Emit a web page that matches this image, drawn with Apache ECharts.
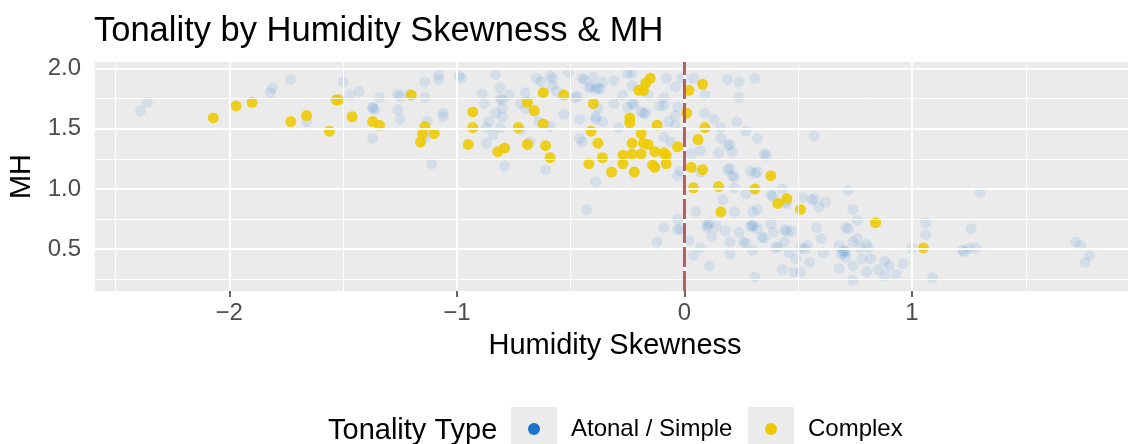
<!DOCTYPE html>
<html>
<head>
<meta charset="utf-8">
<script src="https://cdn.jsdelivr.net/npm/echarts@6.0.0/dist/echarts.min.js"></script>
<style>
  html, body { margin: 0; padding: 0; background: #fff; }
  #scatter { width: 1128px; height: 444px; }
</style>
</head>
<body>
<div id="scatter"></div>
<script>
// points: [humidity skewness, MH]
var atonalPoints = [
  [-2.36, 1.72], [-2.39, 1.65], [-1.82, 1.80], [-1.81, 1.84], [-1.73, 1.91], [-1.66, 1.56],
  [-1.50, 1.89], [-1.47, 1.78], [-1.43, 1.81], [-1.37, 1.67], [-1.36, 1.66], [-1.37, 1.68],
  [-1.34, 1.76], [-1.37, 1.42], [-1.26, 1.79], [-1.25, 1.77], [-1.26, 1.66], [-1.25, 1.58],
  [-1.21, 1.79], [-1.14, 1.89], [-1.14, 1.76], [-1.13, 1.56], [-1.08, 1.95], [-1.08, 1.91],
  [-1.06, 1.63], [-1.06, 1.60], [-1.14, 1.43], [-1.11, 1.21], [-0.99, 1.94], [-0.98, 1.92],
  [-0.83, 1.95], [-0.89, 1.79], [-0.88, 1.71], [-0.81, 1.84], [-0.81, 1.75], [-0.80, 1.74],
  [-0.77, 1.78], [-0.80, 1.67], [-0.83, 1.63], [-0.80, 1.60], [-0.86, 1.56], [-0.87, 1.51],
  [-0.81, 1.51], [-0.84, 1.45], [-0.87, 1.38], [-0.79, 1.19], [-0.70, 1.80], [-0.72, 1.71],
  [-0.70, 1.67], [-0.72, 1.49], [-0.68, 1.39], [-0.65, 1.92], [-0.63, 1.89], [-0.59, 1.94],
  [-0.58, 1.92], [-0.58, 1.86], [-0.56, 1.81], [-0.53, 1.62], [-0.64, 1.56], [-0.59, 1.52],
  [-0.61, 1.16], [-0.51, 1.97], [-0.48, 1.76], [-0.47, 1.77], [-0.46, 1.58], [-0.46, 1.42],
  [-0.45, 1.39], [-0.45, 1.92], [-0.44, 1.91], [-0.42, 1.84], [-0.41, 1.85], [-0.40, 1.93],
  [-0.39, 1.83], [-0.38, 1.84], [-0.39, 1.58], [-0.39, 1.06], [-0.43, 0.83],
  [-0.36, 1.89], [-0.37, 1.83], [-0.31, 1.90], [-0.25, 1.96], [-0.23, 1.96], [-0.23, 1.86],
  [-0.27, 1.78], [-0.31, 1.71], [-0.38, 1.67], [-0.39, 1.60], [-0.36, 1.56], [-0.29, 1.51],
  [-0.25, 1.68], [-0.23, 1.71], [-0.22, 1.70], [-0.19, 1.64], [-0.18, 1.63], [-0.17, 1.63],
  [-0.16, 1.78], [-0.08, 1.92], [-0.09, 1.76], [-0.09, 1.69], [-0.11, 1.69], [-0.07, 1.56],
  [-0.04, 1.53], [-0.09, 1.43], [-0.06, 1.39], [-0.04, 1.61], [-0.03, 1.68], [-0.04, 1.85],
  [-0.01, 1.92], [0.04, 1.92], [0.09, 1.78], [0.09, 1.63], [0.13, 1.58], [0.16, 1.51],
  [0.19, 1.91], [0.24, 1.89], [0.31, 1.92], [0.24, 1.76], [0.23, 1.56], [0.27, 1.48],
  [0.32, 1.42], [0.16, 1.42], [0.20, 1.37], [0.19, 1.36], [0.21, 1.31], [0.15, 1.30],
  [0.03, 1.29], [0.07, 1.32], [0.07, 1.14], [-0.02, 1.15], [-0.03, 1.11], [0.20, 1.17],
  [0.19, 1.16], [0.21, 1.11], [0.22, 1.10], [0.29, 1.15], [0.32, 1.14], [0.31, 1.13],
  [0.35, 1.29], [0.36, 1.28], [0.22, 1.01], [0.17, 0.91], [0.27, 0.96], [0.38, 0.95],
  [0.39, 0.94], [0.43, 1.00], [0.44, 0.89], [0.45, 0.88], [0.52, 0.93], [0.57, 0.92],
  [0.56, 0.91], [0.59, 0.85], [0.62, 0.89], [0.57, 1.44], [0.05, 0.81], [-0.09, 0.68],
  [-0.03, 0.75], [-0.02, 0.67], [-0.03, 0.66], [-0.12, 0.56], [0.02, 0.57], [0.04, 0.45],
  [0.07, 0.51], [0.11, 0.71], [0.10, 0.68], [0.10, 0.70], [0.14, 0.69], [0.12, 0.61],
  [0.11, 0.36], [0.18, 0.65], [0.20, 0.56], [0.20, 0.46], [0.22, 0.81], [0.24, 0.64],
  [0.26, 0.56], [0.27, 0.55], [0.30, 0.69], [0.29, 0.69], [0.30, 0.70], [0.32, 0.67],
  [0.30, 0.81], [0.32, 0.83], [0.30, 0.49], [0.31, 0.27], [0.34, 0.60], [0.35, 0.59],
  [0.38, 0.71], [0.39, 0.64], [0.40, 0.51], [0.41, 0.52], [0.44, 0.56], [0.45, 0.65],
  [0.44, 0.66], [0.47, 0.65], [0.46, 0.47], [0.43, 0.33], [0.48, 0.31], [0.51, 0.31],
  [0.49, 0.42], [0.51, 0.51], [0.53, 0.50], [0.54, 0.53], [0.55, 0.39], [0.58, 0.68],
  [0.60, 0.59], [0.61, 0.47], [0.68, 0.53], [0.69, 0.46], [0.70, 0.47], [0.68, 0.34],
  [0.71, 0.68], [0.72, 0.99], [0.74, 0.83], [0.76, 0.74], [0.72, 0.67], [0.76, 0.59],
  [0.74, 0.56], [0.70, 0.49], [0.71, 0.48], [0.71, 0.43], [0.74, 0.24], [0.74, 0.36],
  [0.77, 0.51], [0.78, 0.42], [0.81, 0.51], [0.80, 0.54], [0.82, 0.42], [0.80, 0.31],
  [0.85, 0.33], [0.88, 0.28], [0.88, 0.40], [0.90, 0.36], [0.93, 0.29], [0.96, 0.38],
  [1.00, 0.51], [1.06, 0.72], [1.06, 0.62], [1.09, 0.26], [1.22, 0.49], [1.23, 0.48],
  [1.25, 0.51], [1.28, 0.51], [1.26, 0.67], [1.30, 0.97], [1.72, 0.56], [1.74, 0.53],
  [1.78, 0.45], [1.76, 0.39]
];

var complexPoints = [
  [-2.07, 1.59], [-1.97, 1.69], [-1.90, 1.72], [-1.73, 1.56], [-1.66, 1.61], [-1.56, 1.48],
  [-1.53, 1.74], [-1.52, 1.74], [-1.46, 1.60], [-1.37, 1.56], [-1.34, 1.53], [-1.20, 1.78],
  [-1.14, 1.52], [-1.15, 1.46], [-1.10, 1.46], [-1.16, 1.39], [-0.93, 1.64], [-0.93, 1.51],
  [-0.95, 1.37], [-0.82, 1.31], [-0.79, 1.34], [-0.73, 1.51], [-0.69, 1.72], [-0.66, 1.65],
  [-0.69, 1.37], [-0.62, 1.80], [-0.62, 1.54], [-0.61, 1.36], [-0.59, 1.26], [-0.53, 1.78],
  [-0.40, 1.71], [-0.41, 1.48], [-0.38, 1.38], [-0.42, 1.21], [-0.15, 1.92], [-0.17, 1.88],
  [-0.20, 1.82], [-0.18, 1.82], [0.08, 1.87], [0.02, 1.82], [0.01, 1.63], [-0.24, 1.59],
  [-0.24, 1.55], [-0.12, 1.53], [0.09, 1.51], [-0.19, 1.46], [0.06, 1.41], [-0.36, 1.26],
  [-0.23, 1.38], [-0.18, 1.38], [-0.16, 1.37], [-0.03, 1.35], [-0.23, 1.29], [-0.19, 1.29],
  [-0.27, 1.28], [-0.13, 1.31], [-0.09, 1.30], [-0.08, 1.28], [-0.27, 1.21], [-0.14, 1.20],
  [-0.13, 1.18], [-0.08, 1.21], [-0.32, 1.14], [-0.22, 1.14], [0.03, 1.18], [0.08, 1.16],
  [0.04, 1.01], [0.15, 1.02], [0.31, 1.00], [0.38, 1.11], [0.16, 0.81], [0.41, 0.88],
  [0.45, 0.92], [0.51, 0.83], [0.84, 0.72], [1.05, 0.51]
];

// axis breaks and panel limits (the panel runs a little past the right edge)
var xBreaks = [-2, -1, 0, 1];
var xMinorBreaks = [-2.5, -1.5, -0.5, 0.5, 1.5];
var yBreaks = [0.5, 1.0, 1.5, 2.0];
var yMinorBreaks = [0.25, 0.75, 1.25, 1.75];
var xLimits = [-2.59, 1.98];
var yLimits = [0.152, 2.055];

var seriesNames = ["Atonal / Simple", "Complex"];
var seriesColors = ["#1874CD", "#EEC900"];

var font = "Liberation Sans, Arial, Helvetica, sans-serif";

var gridLines = [];
xMinorBreaks.forEach(function (v) {
  gridLines.push({ xAxis: v, lineStyle: { width: 1 } });
});
yMinorBreaks.forEach(function (v) {
  gridLines.push({ yAxis: v, lineStyle: { width: 1 } });
});
xBreaks.forEach(function (v) {
  gridLines.push({ xAxis: v, lineStyle: { width: 2 } });
});
yBreaks.forEach(function (v) {
  gridLines.push({ yAxis: v, lineStyle: { width: 2 } });
});

// one legend per key so each sits inside its grey key box
function keyLegend(name, left) {
  return {
    data: [{ name: name, itemStyle: { opacity: 1 } }],
    left: left,
    top: 417,
    padding: 0,
    icon: "circle",
    itemWidth: 12,
    itemHeight: 12,
    selectedMode: false,
    formatter: function (n) {
      return "{s| }{t|" + n + "}";
    },
    textStyle: {
      rich: {
        s: { width: 26, fontSize: 24 },
        t: { fontFamily: font, fontSize: 24, color: "#000" }
      }
    }
  };
}

var dom = document.getElementById("scatter");
var myChart = echarts.init(dom, null, { renderer: "canvas" });

var option = {
  animation: false,
  title: [
    {
      text: "Tonality by Humidity Skewness & MH",
      left: 94,
      top: 14,
      padding: 0,
      textStyle: { fontFamily: font, fontSize: 34.5, fontWeight: "normal", color: "#000" }
    },
    {
      text: "Tonality Type",
      left: 328,
      top: 416,
      padding: 0,
      textStyle: { fontFamily: font, fontSize: 29, fontWeight: "normal", color: "#000" }
    }
  ],
  graphic: [
    { type: "rect", left: 511, top: 407, shape: { width: 46, height: 40 }, style: { fill: "#EBEBEB" }, z: 0 },
    { type: "rect", left: 748, top: 407, shape: { width: 46, height: 40 }, style: { fill: "#EBEBEB" }, z: 0 }
  ],
  legend: [keyLegend(seriesNames[0], 528), keyLegend(seriesNames[1], 765)],
  grid: {
    left: 95,
    width: 1040,
    top: 62,
    bottom: 153,
    outerBoundsMode: "none",
    show: true,
    backgroundColor: "#EBEBEB",
    borderWidth: 0
  },
  xAxis: {
    type: "value",
    min: xLimits[0],
    max: xLimits[1],
    name: "Humidity Skewness",
    nameLocation: "middle",
    nameGap: 40,
    nameTextStyle: { fontFamily: font, fontSize: 29, color: "#000" },
    axisLine: { show: false },
    splitLine: { show: false },
    axisTick: { show: true, length: 6, customValues: xBreaks, lineStyle: { color: "#333", width: 1.5 } },
    axisLabel: {
      customValues: xBreaks,
      margin: 10,
      fontFamily: font,
      fontSize: 24,
      color: "#4D4D4D",
      formatter: function (v) {
        return v < 0 ? "\u2212" + Math.abs(v) : String(v);
      }
    }
  },
  yAxis: {
    type: "value",
    min: yLimits[0],
    max: yLimits[1],
    name: "MH",
    nameLocation: "middle",
    nameGap: 55,
    nameTextStyle: { fontFamily: font, fontSize: 29, color: "#000" },
    axisLine: { show: false },
    splitLine: { show: false },
    axisTick: { show: true, length: 6, customValues: yBreaks, lineStyle: { color: "#333", width: 1.5 } },
    axisLabel: {
      customValues: yBreaks,
      margin: 14,
      fontFamily: font,
      fontSize: 24,
      color: "#4D4D4D",
      formatter: function (v) {
        return v.toFixed(1);
      }
    }
  },
  series: [
    {
      name: "gridlines",
      type: "scatter",
      data: [],
      z: 1,
      silent: true,
      markLine: {
        silent: true,
        symbol: ["none", "none"],
        label: { show: false },
        lineStyle: { color: "#FFFFFF", type: "solid" },
        emphasis: { disabled: true },
        data: gridLines
      }
    },
    {
      name: seriesNames[0],
      type: "scatter",
      z: 2,
      data: atonalPoints,
      symbolSize: 11,
      itemStyle: { color: seriesColors[0], opacity: 0.11 },
      emphasis: { disabled: true }
    },
    {
      name: seriesNames[1],
      type: "scatter",
      z: 3,
      data: complexPoints,
      symbolSize: 11,
      itemStyle: { color: seriesColors[1], opacity: 0.88 },
      emphasis: { disabled: true }
    },
    {
      name: "zero line",
      type: "scatter",
      data: [],
      z: 4,
      silent: true,
      markLine: {
        silent: true,
        symbol: ["none", "none"],
        label: { show: false },
        lineStyle: { color: "rgba(165, 42, 42, 0.75)", width: 3, type: [20, 4] },
        emphasis: { disabled: true },
        data: [{ xAxis: 0 }]
      }
    }
  ]
};

myChart.setOption(option);
window.addEventListener("resize", myChart.resize);
</script>
</body>
</html>
